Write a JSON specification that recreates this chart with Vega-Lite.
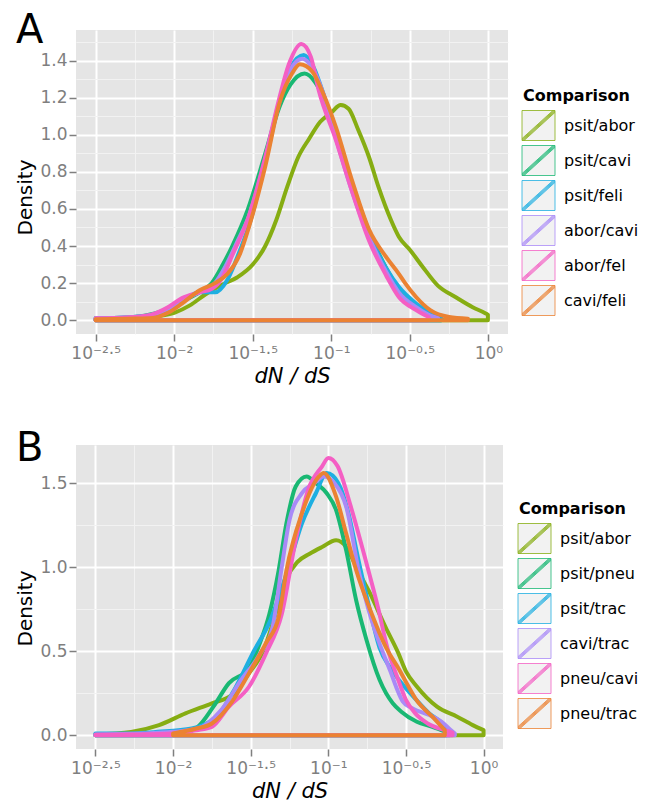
{
"$schema": "https://vega.github.io/schema/vega-lite/v6.json",
"padding": {"left": 15, "top": 11, "right": 0, "bottom": 0},
"spacing": 43,
"config": {
 "font": "DejaVu Sans",
 "view": {"fill": "#e5e5e5", "stroke": null},
 "axis": {"domain": false, "labelColor": "#7f7f7f", "labelFontSize": 17, "titleColor": "#000000", "titleFontWeight": "normal", "titleFontSize": 20, "tickColor": "#7f7f7f", "tickSize": 7, "tickWidth": 1.5, "labelFlush": false},
 "legend": {"orient": "none", "padding": 0, "rowPadding": 0, "titleFontSize": 16, "titleFontWeight": "bold", "titleColor": "#000000", "titlePadding": 6, "labelFontSize": 16, "labelColor": "#000000", "labelOffset": 10, "symbolSize": 900, "symbolStrokeWidth": 0.8, "symbolFillColor": "#f2f2f2", "symbolType": "M-1.1,-1H1.1V1H-1.1Z M-1.1,1L1.1,-1 M-1.03,1L1.1,-0.936 M-1.1,0.936L1.03,-1 M-0.96,1L1.1,-0.873 M-1.1,0.873L0.96,-1"},
 "title": {"fontWeight": "normal", "fontSize": 40, "color": "#000000", "anchor": "start", "frame": "bounds", "baseline": "alphabetic"}
},
"resolve": {"scale": {"x": "independent", "y": "independent", "stroke": "independent"}, "legend": {"stroke": "independent"}},
"datasets": {
 "A": [
  {"Comparison":"psit/abor","log10_dNdS":-2.5,"density":0.005},{"Comparison":"psit/abor","log10_dNdS":-2.3,"density":0.01},{"Comparison":"psit/abor","log10_dNdS":-2.15,"density":0.018},{"Comparison":"psit/abor","log10_dNdS":-2.0,"density":0.04},{"Comparison":"psit/abor","log10_dNdS":-1.9,"density":0.08},{"Comparison":"psit/abor","log10_dNdS":-1.8,"density":0.14},{"Comparison":"psit/abor","log10_dNdS":-1.7,"density":0.19},{"Comparison":"psit/abor","log10_dNdS":-1.6,"density":0.23},{"Comparison":"psit/abor","log10_dNdS":-1.5,"density":0.3},{"Comparison":"psit/abor","log10_dNdS":-1.42,"density":0.4},{"Comparison":"psit/abor","log10_dNdS":-1.35,"density":0.54},{"Comparison":"psit/abor","log10_dNdS":-1.28,"density":0.72},{"Comparison":"psit/abor","log10_dNdS":-1.21,"density":0.88},{"Comparison":"psit/abor","log10_dNdS":-1.14,"density":0.98},{"Comparison":"psit/abor","log10_dNdS":-1.07,"density":1.07},{"Comparison":"psit/abor","log10_dNdS":-1.0,"density":1.12},{"Comparison":"psit/abor","log10_dNdS":-0.94,"density":1.16},{"Comparison":"psit/abor","log10_dNdS":-0.89,"density":1.14},{"Comparison":"psit/abor","log10_dNdS":-0.83,"density":1.03},{"Comparison":"psit/abor","log10_dNdS":-0.76,"density":0.88},{"Comparison":"psit/abor","log10_dNdS":-0.7,"density":0.72},{"Comparison":"psit/abor","log10_dNdS":-0.62,"density":0.54},{"Comparison":"psit/abor","log10_dNdS":-0.57,"density":0.45},{"Comparison":"psit/abor","log10_dNdS":-0.5,"density":0.38},{"Comparison":"psit/abor","log10_dNdS":-0.42,"density":0.29},{"Comparison":"psit/abor","log10_dNdS":-0.32,"density":0.185},{"Comparison":"psit/abor","log10_dNdS":-0.21,"density":0.125},{"Comparison":"psit/abor","log10_dNdS":-0.1,"density":0.07},{"Comparison":"psit/abor","log10_dNdS":-0.02,"density":0.038},{"Comparison":"psit/abor","log10_dNdS":-0.003,"density":0.03},
  {"Comparison":"psit/cavi","log10_dNdS":-2.5,"density":0.01},{"Comparison":"psit/cavi","log10_dNdS":-2.3,"density":0.015},{"Comparison":"psit/cavi","log10_dNdS":-2.16,"density":0.03},{"Comparison":"psit/cavi","log10_dNdS":-2.04,"density":0.06},{"Comparison":"psit/cavi","log10_dNdS":-1.95,"density":0.1},{"Comparison":"psit/cavi","log10_dNdS":-1.84,"density":0.15},{"Comparison":"psit/cavi","log10_dNdS":-1.76,"density":0.2},{"Comparison":"psit/cavi","log10_dNdS":-1.69,"density":0.3},{"Comparison":"psit/cavi","log10_dNdS":-1.63,"density":0.4},{"Comparison":"psit/cavi","log10_dNdS":-1.53,"density":0.6},{"Comparison":"psit/cavi","log10_dNdS":-1.42,"density":0.9},{"Comparison":"psit/cavi","log10_dNdS":-1.33,"density":1.15},{"Comparison":"psit/cavi","log10_dNdS":-1.26,"density":1.27},{"Comparison":"psit/cavi","log10_dNdS":-1.17,"density":1.33},{"Comparison":"psit/cavi","log10_dNdS":-1.1,"density":1.28},{"Comparison":"psit/cavi","log10_dNdS":-1.04,"density":1.18},{"Comparison":"psit/cavi","log10_dNdS":-0.97,"density":1.0},{"Comparison":"psit/cavi","log10_dNdS":-0.87,"density":0.74},{"Comparison":"psit/cavi","log10_dNdS":-0.76,"density":0.48},{"Comparison":"psit/cavi","log10_dNdS":-0.65,"density":0.28},{"Comparison":"psit/cavi","log10_dNdS":-0.57,"density":0.17},{"Comparison":"psit/cavi","log10_dNdS":-0.46,"density":0.08},{"Comparison":"psit/cavi","log10_dNdS":-0.37,"density":0.03},{"Comparison":"psit/cavi","log10_dNdS":-0.3,"density":0.012},
  {"Comparison":"psit/feli","log10_dNdS":-2.5,"density":0.01},{"Comparison":"psit/feli","log10_dNdS":-2.3,"density":0.015},{"Comparison":"psit/feli","log10_dNdS":-2.16,"density":0.025},{"Comparison":"psit/feli","log10_dNdS":-2.04,"density":0.05},{"Comparison":"psit/feli","log10_dNdS":-1.95,"density":0.1},{"Comparison":"psit/feli","log10_dNdS":-1.84,"density":0.15},{"Comparison":"psit/feli","log10_dNdS":-1.74,"density":0.15},{"Comparison":"psit/feli","log10_dNdS":-1.66,"density":0.22},{"Comparison":"psit/feli","log10_dNdS":-1.58,"density":0.38},{"Comparison":"psit/feli","log10_dNdS":-1.52,"density":0.52},{"Comparison":"psit/feli","log10_dNdS":-1.42,"density":0.85},{"Comparison":"psit/feli","log10_dNdS":-1.33,"density":1.18},{"Comparison":"psit/feli","log10_dNdS":-1.26,"density":1.36},{"Comparison":"psit/feli","log10_dNdS":-1.175,"density":1.43},{"Comparison":"psit/feli","log10_dNdS":-1.11,"density":1.36},{"Comparison":"psit/feli","log10_dNdS":-1.05,"density":1.22},{"Comparison":"psit/feli","log10_dNdS":-0.97,"density":1.0},{"Comparison":"psit/feli","log10_dNdS":-0.87,"density":0.73},{"Comparison":"psit/feli","log10_dNdS":-0.76,"density":0.47},{"Comparison":"psit/feli","log10_dNdS":-0.65,"density":0.28},{"Comparison":"psit/feli","log10_dNdS":-0.57,"density":0.18},{"Comparison":"psit/feli","log10_dNdS":-0.46,"density":0.09},{"Comparison":"psit/feli","log10_dNdS":-0.36,"density":0.035},{"Comparison":"psit/feli","log10_dNdS":-0.3,"density":0.015},
  {"Comparison":"abor/cavi","log10_dNdS":-2.5,"density":0.01},{"Comparison":"abor/cavi","log10_dNdS":-2.3,"density":0.015},{"Comparison":"abor/cavi","log10_dNdS":-2.16,"density":0.025},{"Comparison":"abor/cavi","log10_dNdS":-2.04,"density":0.06},{"Comparison":"abor/cavi","log10_dNdS":-1.95,"density":0.11},{"Comparison":"abor/cavi","log10_dNdS":-1.84,"density":0.15},{"Comparison":"abor/cavi","log10_dNdS":-1.74,"density":0.2},{"Comparison":"abor/cavi","log10_dNdS":-1.68,"density":0.28},{"Comparison":"abor/cavi","log10_dNdS":-1.6,"density":0.42},{"Comparison":"abor/cavi","log10_dNdS":-1.525,"density":0.56},{"Comparison":"abor/cavi","log10_dNdS":-1.42,"density":0.87},{"Comparison":"abor/cavi","log10_dNdS":-1.33,"density":1.18},{"Comparison":"abor/cavi","log10_dNdS":-1.26,"density":1.35},{"Comparison":"abor/cavi","log10_dNdS":-1.185,"density":1.41},{"Comparison":"abor/cavi","log10_dNdS":-1.12,"density":1.36},{"Comparison":"abor/cavi","log10_dNdS":-1.05,"density":1.22},{"Comparison":"abor/cavi","log10_dNdS":-0.97,"density":0.98},{"Comparison":"abor/cavi","log10_dNdS":-0.87,"density":0.7},{"Comparison":"abor/cavi","log10_dNdS":-0.76,"density":0.45},{"Comparison":"abor/cavi","log10_dNdS":-0.65,"density":0.26},{"Comparison":"abor/cavi","log10_dNdS":-0.57,"density":0.15},{"Comparison":"abor/cavi","log10_dNdS":-0.46,"density":0.07},{"Comparison":"abor/cavi","log10_dNdS":-0.37,"density":0.025},{"Comparison":"abor/cavi","log10_dNdS":-0.32,"density":0.012},
  {"Comparison":"abor/fel","log10_dNdS":-2.5,"density":0.01},{"Comparison":"abor/fel","log10_dNdS":-2.3,"density":0.015},{"Comparison":"abor/fel","log10_dNdS":-2.16,"density":0.027},{"Comparison":"abor/fel","log10_dNdS":-2.04,"density":0.07},{"Comparison":"abor/fel","log10_dNdS":-1.95,"density":0.12},{"Comparison":"abor/fel","log10_dNdS":-1.84,"density":0.15},{"Comparison":"abor/fel","log10_dNdS":-1.76,"density":0.17},{"Comparison":"abor/fel","log10_dNdS":-1.7,"density":0.22},{"Comparison":"abor/fel","log10_dNdS":-1.63,"density":0.35},{"Comparison":"abor/fel","log10_dNdS":-1.525,"density":0.56},{"Comparison":"abor/fel","log10_dNdS":-1.42,"density":0.88},{"Comparison":"abor/fel","log10_dNdS":-1.33,"density":1.2},{"Comparison":"abor/fel","log10_dNdS":-1.27,"density":1.38},{"Comparison":"abor/fel","log10_dNdS":-1.19,"density":1.49},{"Comparison":"abor/fel","log10_dNdS":-1.13,"density":1.42},{"Comparison":"abor/fel","log10_dNdS":-1.08,"density":1.24},{"Comparison":"abor/fel","log10_dNdS":-0.97,"density":0.97},{"Comparison":"abor/fel","log10_dNdS":-0.87,"density":0.7},{"Comparison":"abor/fel","log10_dNdS":-0.76,"density":0.43},{"Comparison":"abor/fel","log10_dNdS":-0.65,"density":0.24},{"Comparison":"abor/fel","log10_dNdS":-0.57,"density":0.125},{"Comparison":"abor/fel","log10_dNdS":-0.46,"density":0.055},{"Comparison":"abor/fel","log10_dNdS":-0.38,"density":0.017},
  {"Comparison":"cavi/feli","log10_dNdS":-2.5,"density":0.005},{"Comparison":"cavi/feli","log10_dNdS":-2.3,"density":0.008},{"Comparison":"cavi/feli","log10_dNdS":-2.16,"density":0.01},{"Comparison":"cavi/feli","log10_dNdS":-2.04,"density":0.04},{"Comparison":"cavi/feli","log10_dNdS":-1.95,"density":0.09},{"Comparison":"cavi/feli","log10_dNdS":-1.84,"density":0.16},{"Comparison":"cavi/feli","log10_dNdS":-1.74,"density":0.2},{"Comparison":"cavi/feli","log10_dNdS":-1.66,"density":0.25},{"Comparison":"cavi/feli","log10_dNdS":-1.58,"density":0.36},{"Comparison":"cavi/feli","log10_dNdS":-1.525,"density":0.5},{"Comparison":"cavi/feli","log10_dNdS":-1.42,"density":0.83},{"Comparison":"cavi/feli","log10_dNdS":-1.33,"density":1.17},{"Comparison":"cavi/feli","log10_dNdS":-1.25,"density":1.33},{"Comparison":"cavi/feli","log10_dNdS":-1.2,"density":1.38},{"Comparison":"cavi/feli","log10_dNdS":-1.12,"density":1.34},{"Comparison":"cavi/feli","log10_dNdS":-1.05,"density":1.22},{"Comparison":"cavi/feli","log10_dNdS":-0.97,"density":1.04},{"Comparison":"cavi/feli","log10_dNdS":-0.87,"density":0.76},{"Comparison":"cavi/feli","log10_dNdS":-0.76,"density":0.49},{"Comparison":"cavi/feli","log10_dNdS":-0.65,"density":0.34},{"Comparison":"cavi/feli","log10_dNdS":-0.57,"density":0.25},{"Comparison":"cavi/feli","log10_dNdS":-0.53,"density":0.2},{"Comparison":"cavi/feli","log10_dNdS":-0.46,"density":0.125},{"Comparison":"cavi/feli","log10_dNdS":-0.37,"density":0.054},{"Comparison":"cavi/feli","log10_dNdS":-0.25,"density":0.017},{"Comparison":"cavi/feli","log10_dNdS":-0.13,"density":0.008}
 ],
 "B": [
  {"Comparison":"psit/abor","log10_dNdS":-2.5,"density":0.005},{"Comparison":"psit/abor","log10_dNdS":-2.27,"density":0.02},{"Comparison":"psit/abor","log10_dNdS":-2.09,"density":0.06},{"Comparison":"psit/abor","log10_dNdS":-1.92,"density":0.13},{"Comparison":"psit/abor","log10_dNdS":-1.75,"density":0.19},{"Comparison":"psit/abor","log10_dNdS":-1.62,"density":0.24},{"Comparison":"psit/abor","log10_dNdS":-1.51,"density":0.37},{"Comparison":"psit/abor","log10_dNdS":-1.42,"density":0.5},{"Comparison":"psit/abor","log10_dNdS":-1.34,"density":0.72},{"Comparison":"psit/abor","log10_dNdS":-1.27,"density":0.93},{"Comparison":"psit/abor","log10_dNdS":-1.2,"density":1.03},{"Comparison":"psit/abor","log10_dNdS":-1.12,"density":1.08},{"Comparison":"psit/abor","log10_dNdS":-1.04,"density":1.12},{"Comparison":"psit/abor","log10_dNdS":-0.95,"density":1.16},{"Comparison":"psit/abor","log10_dNdS":-0.885,"density":1.12},{"Comparison":"psit/abor","log10_dNdS":-0.82,"density":1.0},{"Comparison":"psit/abor","log10_dNdS":-0.74,"density":0.86},{"Comparison":"psit/abor","log10_dNdS":-0.63,"density":0.64},{"Comparison":"psit/abor","log10_dNdS":-0.55,"density":0.49},{"Comparison":"psit/abor","log10_dNdS":-0.5,"density":0.38},{"Comparison":"psit/abor","log10_dNdS":-0.43,"density":0.29},{"Comparison":"psit/abor","log10_dNdS":-0.3,"density":0.17},{"Comparison":"psit/abor","log10_dNdS":-0.17,"density":0.11},{"Comparison":"psit/abor","log10_dNdS":-0.07,"density":0.06},{"Comparison":"psit/abor","log10_dNdS":0.0,"density":0.03},
  {"Comparison":"psit/pneu","log10_dNdS":-2.5,"density":0.005},{"Comparison":"psit/pneu","log10_dNdS":-2.27,"density":0.005},{"Comparison":"psit/pneu","log10_dNdS":-2.09,"density":0.005},{"Comparison":"psit/pneu","log10_dNdS":-1.95,"density":0.01},{"Comparison":"psit/pneu","log10_dNdS":-1.84,"density":0.05},{"Comparison":"psit/pneu","log10_dNdS":-1.74,"density":0.17},{"Comparison":"psit/pneu","log10_dNdS":-1.64,"density":0.31},{"Comparison":"psit/pneu","log10_dNdS":-1.51,"density":0.4},{"Comparison":"psit/pneu","log10_dNdS":-1.44,"density":0.55},{"Comparison":"psit/pneu","log10_dNdS":-1.38,"density":0.72},{"Comparison":"psit/pneu","log10_dNdS":-1.32,"density":0.98},{"Comparison":"psit/pneu","log10_dNdS":-1.27,"density":1.26},{"Comparison":"psit/pneu","log10_dNdS":-1.21,"density":1.48},{"Comparison":"psit/pneu","log10_dNdS":-1.14,"density":1.54},{"Comparison":"psit/pneu","log10_dNdS":-1.08,"density":1.5},{"Comparison":"psit/pneu","log10_dNdS":-1.01,"density":1.44},{"Comparison":"psit/pneu","log10_dNdS":-0.95,"density":1.34},{"Comparison":"psit/pneu","log10_dNdS":-0.885,"density":1.1},{"Comparison":"psit/pneu","log10_dNdS":-0.82,"density":0.8},{"Comparison":"psit/pneu","log10_dNdS":-0.755,"density":0.57},{"Comparison":"psit/pneu","log10_dNdS":-0.67,"density":0.33},{"Comparison":"psit/pneu","log10_dNdS":-0.585,"density":0.19},{"Comparison":"psit/pneu","log10_dNdS":-0.53,"density":0.14},{"Comparison":"psit/pneu","log10_dNdS":-0.43,"density":0.08},{"Comparison":"psit/pneu","log10_dNdS":-0.33,"density":0.05},{"Comparison":"psit/pneu","log10_dNdS":-0.24,"density":0.02},
  {"Comparison":"psit/trac","log10_dNdS":-2.5,"density":0.01},{"Comparison":"psit/trac","log10_dNdS":-2.3,"density":0.01},{"Comparison":"psit/trac","log10_dNdS":-2.1,"density":0.02},{"Comparison":"psit/trac","log10_dNdS":-1.88,"density":0.04},{"Comparison":"psit/trac","log10_dNdS":-1.72,"density":0.11},{"Comparison":"psit/trac","log10_dNdS":-1.6,"density":0.28},{"Comparison":"psit/trac","log10_dNdS":-1.48,"density":0.5},{"Comparison":"psit/trac","log10_dNdS":-1.38,"density":0.67},{"Comparison":"psit/trac","log10_dNdS":-1.27,"density":0.96},{"Comparison":"psit/trac","log10_dNdS":-1.17,"density":1.26},{"Comparison":"psit/trac","log10_dNdS":-1.08,"density":1.44},{"Comparison":"psit/trac","log10_dNdS":-1.01,"density":1.56},{"Comparison":"psit/trac","log10_dNdS":-0.935,"density":1.5},{"Comparison":"psit/trac","log10_dNdS":-0.87,"density":1.32},{"Comparison":"psit/trac","log10_dNdS":-0.81,"density":1.06},{"Comparison":"psit/trac","log10_dNdS":-0.736,"density":0.76},{"Comparison":"psit/trac","log10_dNdS":-0.67,"density":0.52},{"Comparison":"psit/trac","log10_dNdS":-0.6,"density":0.4},{"Comparison":"psit/trac","log10_dNdS":-0.52,"density":0.3},{"Comparison":"psit/trac","log10_dNdS":-0.433,"density":0.21},{"Comparison":"psit/trac","log10_dNdS":-0.35,"density":0.13},{"Comparison":"psit/trac","log10_dNdS":-0.265,"density":0.07},{"Comparison":"psit/trac","log10_dNdS":-0.22,"density":0.02},
  {"Comparison":"cavi/trac","log10_dNdS":-2.5,"density":0.005},{"Comparison":"cavi/trac","log10_dNdS":-2.2,"density":0.01},{"Comparison":"cavi/trac","log10_dNdS":-2.0,"density":0.02},{"Comparison":"cavi/trac","log10_dNdS":-1.84,"density":0.04},{"Comparison":"cavi/trac","log10_dNdS":-1.69,"density":0.15},{"Comparison":"cavi/trac","log10_dNdS":-1.56,"density":0.33},{"Comparison":"cavi/trac","log10_dNdS":-1.45,"density":0.47},{"Comparison":"cavi/trac","log10_dNdS":-1.36,"density":0.64},{"Comparison":"cavi/trac","log10_dNdS":-1.3,"density":1.0},{"Comparison":"cavi/trac","log10_dNdS":-1.25,"density":1.28},{"Comparison":"cavi/trac","log10_dNdS":-1.17,"density":1.44},{"Comparison":"cavi/trac","log10_dNdS":-1.09,"density":1.5},{"Comparison":"cavi/trac","log10_dNdS":-1.03,"density":1.54},{"Comparison":"cavi/trac","log10_dNdS":-0.96,"density":1.5},{"Comparison":"cavi/trac","log10_dNdS":-0.885,"density":1.36},{"Comparison":"cavi/trac","log10_dNdS":-0.8,"density":0.96},{"Comparison":"cavi/trac","log10_dNdS":-0.745,"density":0.76},{"Comparison":"cavi/trac","log10_dNdS":-0.68,"density":0.57},{"Comparison":"cavi/trac","log10_dNdS":-0.6,"density":0.38},{"Comparison":"cavi/trac","log10_dNdS":-0.56,"density":0.28},{"Comparison":"cavi/trac","log10_dNdS":-0.52,"density":0.2},{"Comparison":"cavi/trac","log10_dNdS":-0.46,"density":0.16},{"Comparison":"cavi/trac","log10_dNdS":-0.35,"density":0.12},{"Comparison":"cavi/trac","log10_dNdS":-0.27,"density":0.08},{"Comparison":"cavi/trac","log10_dNdS":-0.21,"density":0.03},{"Comparison":"cavi/trac","log10_dNdS":-0.185,"density":0.01},
  {"Comparison":"pneu/cavi","log10_dNdS":-2.5,"density":0.003},{"Comparison":"pneu/cavi","log10_dNdS":-2.2,"density":0.005},{"Comparison":"pneu/cavi","log10_dNdS":-2.0,"density":0.01},{"Comparison":"pneu/cavi","log10_dNdS":-1.85,"density":0.03},{"Comparison":"pneu/cavi","log10_dNdS":-1.75,"density":0.05},{"Comparison":"pneu/cavi","log10_dNdS":-1.64,"density":0.17},{"Comparison":"pneu/cavi","log10_dNdS":-1.51,"density":0.29},{"Comparison":"pneu/cavi","log10_dNdS":-1.4,"density":0.49},{"Comparison":"pneu/cavi","log10_dNdS":-1.3,"density":0.72},{"Comparison":"pneu/cavi","log10_dNdS":-1.21,"density":1.16},{"Comparison":"pneu/cavi","log10_dNdS":-1.13,"density":1.46},{"Comparison":"pneu/cavi","log10_dNdS":-1.04,"density":1.6},{"Comparison":"pneu/cavi","log10_dNdS":-1.0,"density":1.65},{"Comparison":"pneu/cavi","log10_dNdS":-0.94,"density":1.6},{"Comparison":"pneu/cavi","log10_dNdS":-0.855,"density":1.36},{"Comparison":"pneu/cavi","log10_dNdS":-0.765,"density":1.06},{"Comparison":"pneu/cavi","log10_dNdS":-0.68,"density":0.76},{"Comparison":"pneu/cavi","log10_dNdS":-0.62,"density":0.52},{"Comparison":"pneu/cavi","log10_dNdS":-0.55,"density":0.33},{"Comparison":"pneu/cavi","log10_dNdS":-0.5,"density":0.21},{"Comparison":"pneu/cavi","log10_dNdS":-0.44,"density":0.13},{"Comparison":"pneu/cavi","log10_dNdS":-0.36,"density":0.07},{"Comparison":"pneu/cavi","log10_dNdS":-0.25,"density":0.03},{"Comparison":"pneu/cavi","log10_dNdS":-0.2,"density":0.015},
  {"Comparison":"pneu/trac","log10_dNdS":-2.0,"density":0.01},{"Comparison":"pneu/trac","log10_dNdS":-1.85,"density":0.04},{"Comparison":"pneu/trac","log10_dNdS":-1.75,"density":0.07},{"Comparison":"pneu/trac","log10_dNdS":-1.62,"density":0.2},{"Comparison":"pneu/trac","log10_dNdS":-1.51,"density":0.37},{"Comparison":"pneu/trac","log10_dNdS":-1.4,"density":0.55},{"Comparison":"pneu/trac","log10_dNdS":-1.32,"density":0.7},{"Comparison":"pneu/trac","log10_dNdS":-1.27,"density":0.98},{"Comparison":"pneu/trac","log10_dNdS":-1.17,"density":1.32},{"Comparison":"pneu/trac","log10_dNdS":-1.06,"density":1.54},{"Comparison":"pneu/trac","log10_dNdS":-1.03,"density":1.56},{"Comparison":"pneu/trac","log10_dNdS":-0.95,"density":1.42},{"Comparison":"pneu/trac","log10_dNdS":-0.885,"density":1.2},{"Comparison":"pneu/trac","log10_dNdS":-0.82,"density":0.98},{"Comparison":"pneu/trac","log10_dNdS":-0.736,"density":0.76},{"Comparison":"pneu/trac","log10_dNdS":-0.627,"density":0.52},{"Comparison":"pneu/trac","log10_dNdS":-0.543,"density":0.39},{"Comparison":"pneu/trac","log10_dNdS":-0.49,"density":0.3},{"Comparison":"pneu/trac","log10_dNdS":-0.433,"density":0.21},{"Comparison":"pneu/trac","log10_dNdS":-0.33,"density":0.11},{"Comparison":"pneu/trac","log10_dNdS":-0.25,"density":0.03}
 ]
},
"vconcat": [
 {
  "width": 432, "height": 304,
  "title": {"text": "A", "offset": -21},
  "data": {"name": "A"},
  "mark": {"type": "area", "fill": "#f2f2f2", "fillOpacity": 0, "strokeWidth": 4, "strokeJoin": "round", "interpolate": "monotone"},
  "encoding": {
   "x": {"field": "log10_dNdS", "type": "quantitative", "scale": {"domain": [-2.625, 0.125], "nice": false, "zero": false},
    "axis": {"title": "dN / dS", "titleFontStyle": "italic", "titleFontSize": 21, "titlePadding": 4, "labelPadding": 4,
     "values": [-2.5, -2.25, -2.0, -1.75, -1.5, -1.25, -1.0, -0.75, -0.5, -0.25, 0.0],
     "labelExpr": "abs(datum.value+2.5)<0.01 ? '10⁻²·⁵' : abs(datum.value+2)<0.01 ? '10⁻²' : abs(datum.value+1.5)<0.01 ? '10⁻¹·⁵' : abs(datum.value+1)<0.01 ? '10⁻¹' : abs(datum.value+0.5)<0.01 ? '10⁻⁰·⁵' : abs(datum.value)<0.01 ? '10⁰' : ''",
     "gridColor": {"condition": {"test": "abs(datum.value*2-round(datum.value*2))<0.001", "value": "#ffffff"}, "value": "#f2f2f2"},
     "gridWidth": {"condition": {"test": "abs(datum.value*2-round(datum.value*2))<0.001", "value": 2}, "value": 1},
     "tickColor": {"condition": {"test": "abs(datum.value*2-round(datum.value*2))<0.001", "value": "#7f7f7f"}, "value": "transparent"}}},
   "y": {"field": "density", "type": "quantitative", "stack": null, "scale": {"domain": [-0.0745, 1.565], "nice": false, "zero": false},
    "axis": {"title": "Density", "titleY": 167, "titlePadding": 4, "labelPadding": 2,
     "values": [0, 0.1, 0.2, 0.3, 0.4, 0.5, 0.6, 0.7, 0.8, 0.9, 1.0, 1.1, 1.2, 1.3, 1.4, 1.5],
     "labelExpr": "abs(datum.value*5-round(datum.value*5))<0.001 ? format(datum.value, '.1f') : ''",
     "gridColor": {"condition": {"test": "abs(datum.value*5-round(datum.value*5))<0.001", "value": "#ffffff"}, "value": "#f2f2f2"},
     "gridWidth": {"condition": {"test": "abs(datum.value*5-round(datum.value*5))<0.001", "value": 2}, "value": 1},
     "tickColor": {"condition": {"test": "abs(datum.value*5-round(datum.value*5))<0.001", "value": "#7f7f7f"}, "value": "transparent"}}},
   "y2": {"datum": 0},
   "stroke": {"field": "Comparison", "type": "nominal",
    "scale": {"domain": ["psit/abor", "psit/cavi", "psit/feli", "abor/cavi", "abor/fel", "cavi/feli"], "range": ["#86AD12", "#19B873", "#1EAFE1", "#A98AF7", "#F45FC4", "#EB8232"]},
    "legend": {"title": "Comparison", "legendX": 447, "legendY": 58,
     "encode": {"symbols": {"update": {"fill": {"value": "#f2f2f2"}, "fillOpacity": {"value": 1}, "strokeWidth": {"value": 0.8}}}}}}
  }
 },
 {
  "width": 427, "height": 304,
  "title": {"text": "B", "offset": -24},
  "data": {"name": "B"},
  "mark": {"type": "area", "fill": "#f2f2f2", "fillOpacity": 0, "strokeWidth": 4, "strokeJoin": "round", "interpolate": "monotone"},
  "encoding": {
   "x": {"field": "log10_dNdS", "type": "quantitative", "scale": {"domain": [-2.625, 0.125], "nice": false, "zero": false},
    "axis": {"title": "dN / dS", "titleFontStyle": "italic", "titleFontSize": 21, "titlePadding": 4, "labelPadding": 4,
     "values": [-2.5, -2.25, -2.0, -1.75, -1.5, -1.25, -1.0, -0.75, -0.5, -0.25, 0.0],
     "labelExpr": "abs(datum.value+2.5)<0.01 ? '10⁻²·⁵' : abs(datum.value+2)<0.01 ? '10⁻²' : abs(datum.value+1.5)<0.01 ? '10⁻¹·⁵' : abs(datum.value+1)<0.01 ? '10⁻¹' : abs(datum.value+0.5)<0.01 ? '10⁻⁰·⁵' : abs(datum.value)<0.01 ? '10⁰' : ''",
     "gridColor": {"condition": {"test": "abs(datum.value*2-round(datum.value*2))<0.001", "value": "#ffffff"}, "value": "#f2f2f2"},
     "gridWidth": {"condition": {"test": "abs(datum.value*2-round(datum.value*2))<0.001", "value": 2}, "value": 1},
     "tickColor": {"condition": {"test": "abs(datum.value*2-round(datum.value*2))<0.001", "value": "#7f7f7f"}, "value": "transparent"}}},
   "y": {"field": "density", "type": "quantitative", "stack": null, "scale": {"domain": [-0.082, 1.727], "nice": false, "zero": false},
    "axis": {"title": "Density", "titleY": 163, "titlePadding": 4, "labelPadding": 2,
     "values": [0, 0.25, 0.5, 0.75, 1.0, 1.25, 1.5],
     "labelExpr": "abs(datum.value*2-round(datum.value*2))<0.001 ? format(datum.value, '.1f') : ''",
     "gridColor": {"condition": {"test": "abs(datum.value*2-round(datum.value*2))<0.001", "value": "#ffffff"}, "value": "#f2f2f2"},
     "gridWidth": {"condition": {"test": "abs(datum.value*2-round(datum.value*2))<0.001", "value": 2}, "value": 1},
     "tickColor": {"condition": {"test": "abs(datum.value*2-round(datum.value*2))<0.001", "value": "#7f7f7f"}, "value": "transparent"}}},
   "y2": {"datum": 0},
   "stroke": {"field": "Comparison", "type": "nominal",
    "scale": {"domain": ["psit/abor", "psit/pneu", "psit/trac", "cavi/trac", "pneu/cavi", "pneu/trac"], "range": ["#86AD12", "#19B873", "#1EAFE1", "#A98AF7", "#F45FC4", "#EB8232"]},
    "legend": {"title": "Comparison", "legendX": 443, "legendY": 56,
     "encode": {"symbols": {"update": {"fill": {"value": "#f2f2f2"}, "fillOpacity": {"value": 1}, "strokeWidth": {"value": 0.8}}}}}}
  }
 }
]
}
